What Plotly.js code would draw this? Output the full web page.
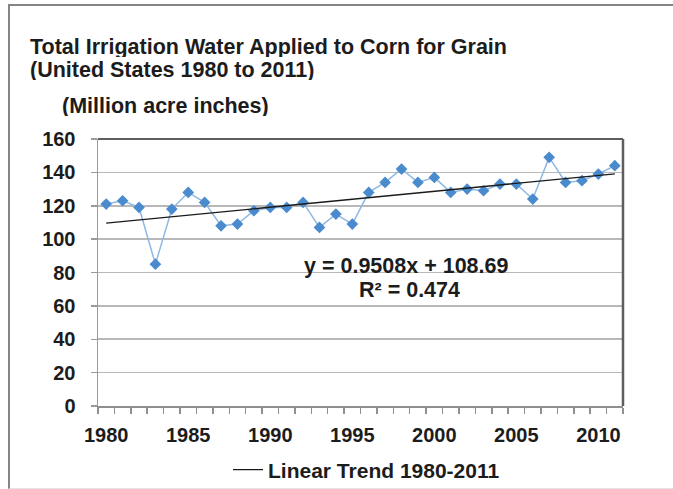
<!DOCTYPE html>
<html>
<head>
<meta charset="utf-8">
<script src="https://cdn.plot.ly/plotly-3.0.1.min.js"></script>
<style>
  html, body { margin: 0; padding: 0; background: #fff; }
  #wrap { position: relative; width: 673px; height: 489px; overflow: hidden; }
  #chart { width: 673px; height: 489px; }
  #frame { position: absolute; left: 8px; top: 4px; width: 720px; height: 485px;
           border: 2px solid #858585; border-bottom: 1px solid #e4e4e4; pointer-events: none; box-sizing: border-box; }
</style>
</head>
<body>
<div id="wrap">
<div id="chart"></div>
<div id="frame"></div>
</div>
<script>
const years = [1980,1981,1982,1983,1984,1985,1986,1987,1988,1989,1990,1991,1992,1993,1994,1995,
               1996,1997,1998,1999,2000,2001,2002,2003,2004,2005,2006,2007,2008,2009,2010,2011];
const water = [121,123,119,85,118,128,122,108,109,117,119,119,122,107,115,109,
               128,134,142,134,137,128,130,129,133,133,124,149,134,135,139,144];
const trendSlope = 0.9508;
const trendIntercept = 108.69;
const xTickLabels = ['1980','1985','1990','1995','2000','2005','2010'];
const yTicks = [0,20,40,60,80,100,120,140,160];

const trendX = [years[0], years[years.length-1]];
const trendY = trendX.map(y => trendSlope * (y - years[0] + 1) + trendIntercept);

const font = 'Liberation Sans, Arial, sans-serif';
const ink = '#1c1c1c';

const data = [
  { x: years, y: water, mode: 'lines+markers', type: 'scatter', showlegend: false,
    line: { color: '#8fb8e3', width: 1.5 },
    marker: { symbol: 'diamond', size: 9, color: '#4a8bcd' } },
  { x: trendX, y: trendY, mode: 'lines', type: 'scatter', name: 'Linear Trend 1980-2011',
    line: { color: '#1a1a1a', width: 1.3 } }
];

const layout = {
  width: 673, height: 489,
  margin: { l: 98, r: 50, t: 139, b: 83, autoexpand: false },
  paper_bgcolor: '#fff', plot_bgcolor: '#fff',
  font: { family: font, color: ink },
  showlegend: true,
  legend: { orientation: 'h', xref: 'container', yref: 'container',
            x: 0.3388, xanchor: 'left', y: 0.0389, yanchor: 'middle',
            font: { family: font, size: 21, color: ink, weight: 'bold' } },
  xaxis: {
    range: [1979.5, 2011.5],
    tickvals: xTickLabels.map(Number), ticktext: xTickLabels,
    ticks: '', ticklabelstandoff: 10, showgrid: false, zeroline: false,
    showline: true, linecolor: '#8f8f8f', linewidth: 2,
    tickfont: { family: font, size: 20, color: ink, weight: 'bold' },
    minor: { tick0: 1979.5, dtick: 1, ticks: 'outside', ticklen: 6, tickcolor: '#8f8f8f', tickwidth: 1.5, showgrid: false }
  },
  yaxis: {
    range: [0, 160], tickvals: yTicks,
    ticks: 'outside', ticklen: 6, tickcolor: '#9a9a9a', tickwidth: 1.5, ticklabelstandoff: 11,
    showgrid: true, gridcolor: '#b8b8b8', gridwidth: 1.6,
    zeroline: false, showline: true, linecolor: '#9a9a9a', linewidth: 1.5,
    tickfont: { family: font, size: 20, color: ink, weight: 'bold' }
  },
  shapes: [
    { type: 'line', xref: 'paper', yref: 'paper', x0: 1, x1: 1, y0: 0, y1: 1,
      line: { color: '#5e5e5e', width: 2.5 } },
    { type: 'line', xref: 'paper', yref: 'paper', x0: 0, x1: 1, y0: 1, y1: 1,
      line: { color: '#5e5e5e', width: 2 } }
  ],
  annotations: [
    { xref: 'paper', yref: 'paper', x: -0.133, y: 1.346, xanchor: 'left', yanchor: 'middle',
      height: 20, showarrow: false, text: 'Total Irrigation Water Applied to Corn for Grain',
      font: { family: font, size: 21.5, color: ink, weight: 'bold' } },
    { xref: 'paper', yref: 'paper', x: -0.133, y: 1.26, xanchor: 'left', yanchor: 'middle',
      height: 20, showarrow: false, text: '(United States 1980 to 2011)',
      font: { family: font, size: 21.5, color: ink, weight: 'bold' } },
    { xref: 'paper', yref: 'paper', x: -0.0722, y: 1.125, xanchor: 'left', yanchor: 'middle',
      height: 20, showarrow: false, text: '(Million acre inches)',
      font: { family: font, size: 21.5, color: ink, weight: 'bold' } },
    { xref: 'paper', yref: 'paper', x: 0.587, y: 0.5225, xanchor: 'center', yanchor: 'middle',
      height: 24, showarrow: false, text: 'y = 0.9508x + 108.69',
      font: { family: font, size: 21.5, color: ink, weight: 'bold' } },
    { xref: 'paper', yref: 'paper', x: 0.593, y: 0.4363, xanchor: 'center', yanchor: 'middle',
      height: 18, showarrow: false, text: 'R² = 0.474',
      font: { family: font, size: 21.5, color: ink, weight: 'bold' } }
  ]
};

Plotly.newPlot('chart', data, layout, { displayModeBar: false, staticPlot: true });
</script>
</body>
</html>
